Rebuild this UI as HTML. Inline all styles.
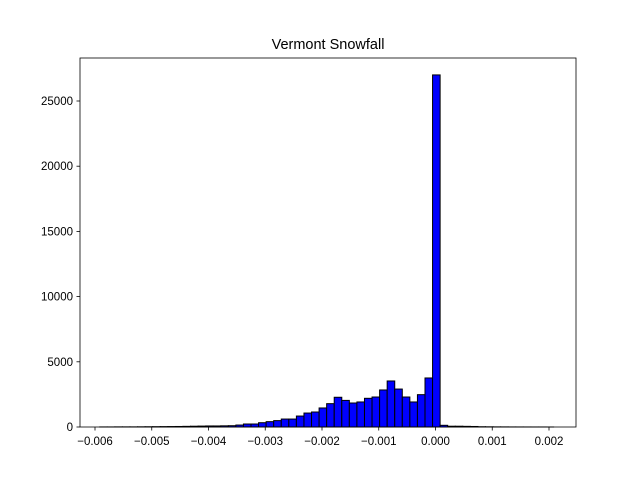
<!DOCTYPE html>
<html><head><meta charset="utf-8"><style>
body{margin:0;background:#fff;}
svg{display:block;font-family:"Liberation Sans","DejaVu Sans",sans-serif;}
</style></head><body>
<svg id="chart" width="640" height="480" viewBox="0 0 640 480" xmlns="http://www.w3.org/2000/svg">
<rect width="640" height="480" fill="#fff"/>
<text x="328" y="49" font-size="14.5" text-anchor="middle">Vermont Snowfall</text>
<g id="bars"></g>
<g id="axes"></g>
<rect x="80" y="58" width="496" height="369" fill="none" stroke="#000" stroke-width="0.8"/>
</svg>
<script>
const binStart = -0.005917;
const binWidth = 0.0001333;
const counts = [5,5,10,10,10,15,20,25,30,35,40,50,60,70,80,80,90,100,150,230,230,330,410,490,610,610,840,1070,1150,1460,1790,2280,2040,1840,1920,2200,2300,2840,3530,2910,2300,1920,2480,3760,27000,130,60,60,50,40,20,15,10,8,5,4,3,2,2,1];
const xTicks = [-0.006,-0.005,-0.004,-0.003,-0.002,-0.001,0.000,0.001,0.002];
const xTickLabels = ["\u22120.006","\u22120.005","\u22120.004","\u22120.003","\u22120.002","\u22120.001","0.000","0.001","0.002"];
const yTicks = [0,5000,10000,15000,20000,25000];
const yTickLabels = ["0","5000","10000","15000","20000","25000"];

const NS = "http://www.w3.org/2000/svg";
function xs(v){ return 95 + (v + 0.006) * 56750; }
function ys(v){ return 427 - v * 0.01304; }

const barsG = document.getElementById('bars');
counts.forEach((c, i) => {
  const x0 = xs(binStart + i * binWidth), x1 = xs(binStart + (i + 1) * binWidth);
  const r = document.createElementNS(NS, 'rect');
  r.setAttribute('x', x0); r.setAttribute('width', x1 - x0);
  r.setAttribute('y', ys(c)); r.setAttribute('height', 427 - ys(c));
  r.setAttribute('fill', '#0000ff'); r.setAttribute('stroke', '#000'); r.setAttribute('stroke-width', '1');
  
  
  barsG.appendChild(r);
});

const axG = document.getElementById('axes');
xTicks.forEach((t, i) => {
  const x = xs(t);
  const l = document.createElementNS(NS, 'line');
  l.setAttribute('x1', x); l.setAttribute('x2', x); l.setAttribute('y1', 427); l.setAttribute('y2', 430.5);
  l.setAttribute('stroke', '#000'); l.setAttribute('stroke-width', '0.8');
  
  
  axG.appendChild(l);
  const tx = document.createElementNS(NS, 'text');
  tx.setAttribute('x', x); tx.setAttribute('y', 445); tx.setAttribute('font-size', '11.5'); tx.setAttribute('text-anchor', 'middle');
  tx.textContent = xTickLabels[i];
  
  
  axG.appendChild(tx);
});
yTicks.forEach((t, i) => {
  const y = ys(t);
  const l = document.createElementNS(NS, 'line');
  l.setAttribute('x1', 76.5); l.setAttribute('x2', 80); l.setAttribute('y1', y); l.setAttribute('y2', y);
  l.setAttribute('stroke', '#000'); l.setAttribute('stroke-width', '0.8');
  
  
  axG.appendChild(l);
  const tx = document.createElementNS(NS, 'text');
  tx.setAttribute('x', 73); tx.setAttribute('y', y + 4); tx.setAttribute('font-size', '11.5'); tx.setAttribute('text-anchor', 'end');
  tx.textContent = yTickLabels[i];
  
  
  axG.appendChild(tx);
});
</script>
</body></html>
